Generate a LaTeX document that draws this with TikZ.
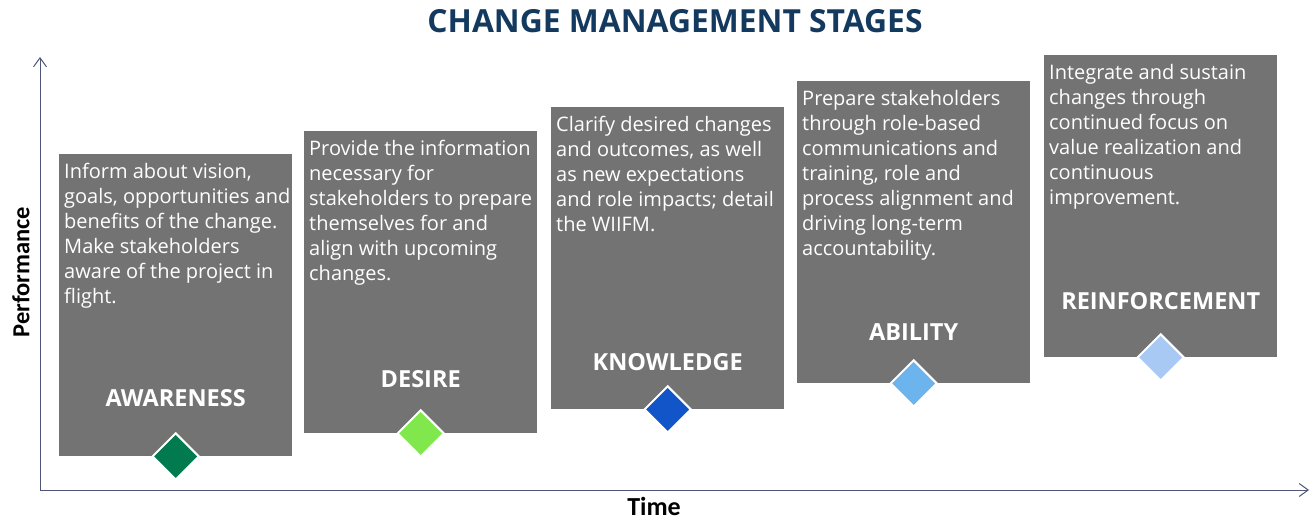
\documentclass[tikz,border=0pt]{standalone}
\usepackage{fontspec}
\setmainfont{Open Sans}
\newfontfamily\calfont{Carlito}
\usetikzlibrary{arrows.meta,shapes.geometric}
\definecolor{boxgray}{HTML}{737373}
\definecolor{titleblue}{HTML}{133A5E}
\definecolor{axiscol}{HTML}{4F5578}
\definecolor{dA}{HTML}{007A4E}
\definecolor{dB}{HTML}{80E84C}
\definecolor{dC}{HTML}{1155C8}
\definecolor{dD}{HTML}{6CB4EE}
\definecolor{dE}{HTML}{A9C9F5}
\tikzset{
  stagebox/.style={fill=boxgray, draw=none, minimum width=233pt, minimum height=302pt, inner sep=0, anchor=north west},
  bodytext/.style={text=white, align=left, inner sep=0, anchor=north west, font=\fontsize{20}{25}\selectfont},
  stagelabel/.style={text=white, inner sep=0, anchor=base, font=\bfseries\fontsize{23.5}{26}\selectfont},
  marker/.style={diamond, draw=white, line width=2pt, minimum width=47pt, minimum height=47pt, inner sep=0},
  axislab/.style={font=\calfont\bfseries\fontsize{24.5}{28}\selectfont, inner sep=0},
  axis/.style={draw=axiscol, line width=1pt, -{Straight Barb[length=9pt,width=13pt,line width=1pt]}}
}
\begin{document}
\begin{tikzpicture}[x=1pt,y=-1pt]
\useasboundingbox (0,0) rectangle (1314,519);
% title
\node[text=titleblue, font=\bfseries\fontsize{31.8}{34}\selectfont, inner sep=0, anchor=base] (title) at (675,33) {CHANGE MANAGEMENT STAGES};
% axes
\coordinate (origin) at (40,490);
\coordinate (ytip) at (40,57);
\coordinate (xtip) at (1309,490);
\draw[axis] (origin) -- (ytip);
\draw[axis] (origin) -- (xtip);
\node[axislab, rotate=90] (ylab) at (21,272) {Performance};
\node[axislab, font=\calfont\bfseries\fontsize{26}{28}\selectfont] (xlab) at (654,506) {Time};
% boxes
\node[stagebox] (b1) at (59,154) {};
\node[stagebox] (b2) at (304,131) {};
\node[stagebox] (b3) at (551,107) {};
\node[stagebox] (b4) at (797,81) {};
\node[stagebox] (b5) at (1044,55) {};
% texts
\node[bodytext] (t1) at ([xshift=5pt,yshift=-9pt]b1.north west) {Inform about vision,\\goals, opportunities and\\benefits of the change.\\Make stakeholders\\aware of the project in\\flight.};
\node[bodytext] (t2) at ([xshift=5pt,yshift=-9pt]b2.north west) {Provide the information\\necessary for\\stakeholders to prepare\\themselves for and\\align with upcoming\\changes.};
\node[bodytext] (t3) at ([xshift=5pt,yshift=-9pt]b3.north west) {Clarify desired changes\\and outcomes, as well\\as new expectations\\and role impacts; detail\\the WIIFM.};
\node[bodytext] (t4) at ([xshift=5pt,yshift=-9pt]b4.north west) {Prepare stakeholders\\through role-based\\communications and\\training, role and\\process alignment and\\driving long-term\\accountability.};
\node[bodytext] (t5) at ([xshift=5pt,yshift=-9pt]b5.north west) {Integrate and sustain\\changes through\\continued focus on\\value realization and\\continuous\\improvement.};
% labels
\node[stagelabel] (l1) at ([yshift=-252pt]b1.north) {AWARENESS};
\node[stagelabel] (l2) at ([yshift=-256pt]b2.north) {DESIRE};
\node[stagelabel] (l3) at ([yshift=-263pt]b3.north) {KNOWLEDGE};
\node[stagelabel] (l4) at ([yshift=-259pt]b4.north) {ABILITY};
\node[stagelabel] (l5) at ([yshift=-254pt]b5.north) {REINFORCEMENT};
% diamonds
\node[marker, fill=dA] (m1) at (b1.south) {};
\node[marker, fill=dB] (m2) at (b2.south) {};
\node[marker, fill=dC] (m3) at (b3.south) {};
\node[marker, fill=dD] (m4) at (b4.south) {};
\node[marker, fill=dE] (m5) at (b5.south) {};
\end{tikzpicture}
\end{document}
